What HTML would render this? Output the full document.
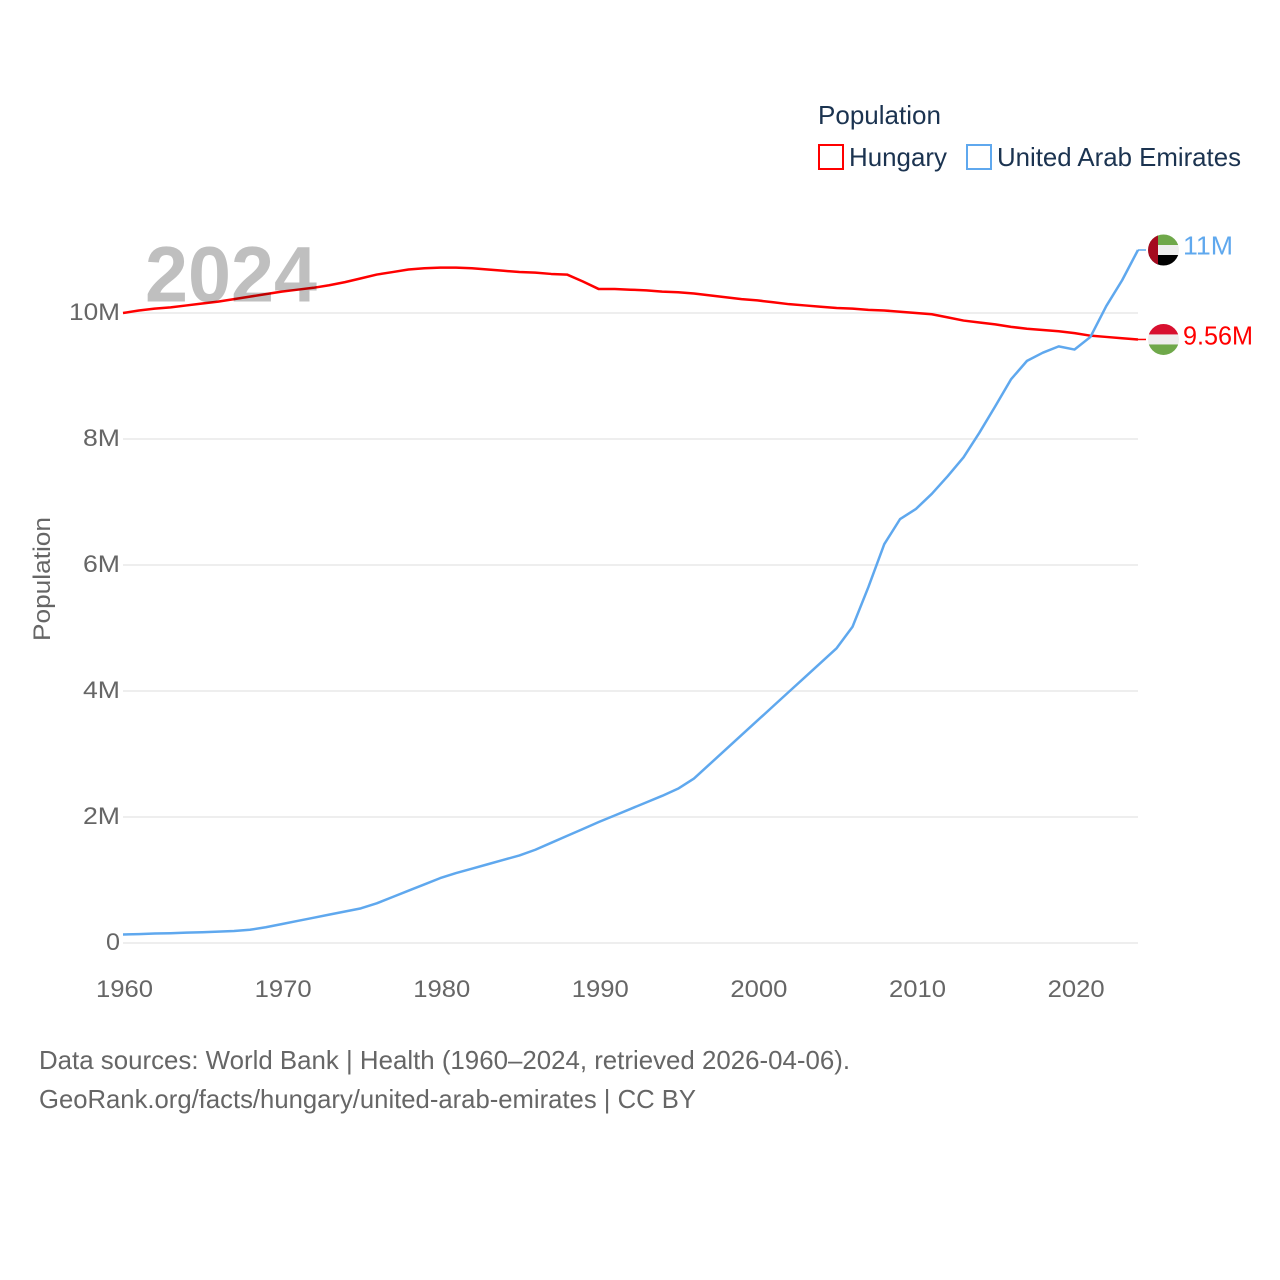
<!DOCTYPE html>
<html lang="en">
<head>
<meta charset="utf-8">
<title>Population: Hungary and United Arab Emirates</title>
<style>
  html, body { margin: 0; padding: 0; background: #fff; }
  svg { display: block; font-family: "Liberation Sans", sans-serif; }
</style>
</head>
<body>
<svg id="chart" width="1280" height="1280" viewBox="0 0 1280 1280" xmlns="http://www.w3.org/2000/svg">
  <defs>
    <clipPath id="flag-clip"><circle cx="0" cy="0" r="15.5"></circle></clipPath>
  </defs>
  <g id="grid"></g>
  <g id="yticks"></g>
  <g id="xticks"></g>
  <text transform="translate(50,579) rotate(-90)" text-anchor="middle" font-size="24" fill="#666" textLength="124" lengthAdjust="spacingAndGlyphs">Population</text>
  <g id="series"></g>
  <text id="year" x="145" y="301.5" font-size="79" font-weight="700" fill="#bfbfbf" textLength="172" lengthAdjust="spacingAndGlyphs" style="mix-blend-mode:multiply">2024</text>

  <g>
    <text x="818" y="124" font-size="26" fill="#1b3350" textLength="123" lengthAdjust="spacingAndGlyphs">Population</text>
    <g>
      <rect x="819" y="145" width="24" height="24" fill="#fff" stroke="#ff0000" stroke-width="2"></rect>
      <text x="849" y="166" font-size="26" fill="#1b3350" textLength="98" lengthAdjust="spacingAndGlyphs">Hungary</text>
    </g>
    <g>
      <rect x="967" y="145" width="24" height="24" fill="#fff" stroke="#5fa8ee" stroke-width="2"></rect>
      <text x="997" y="166" font-size="26" fill="#1b3350" textLength="244" lengthAdjust="spacingAndGlyphs">United Arab Emirates</text>
    </g>
  </g>

  <g id="flag-uae">
    <g clip-path="url(#flag-clip)">
      <rect x="-16" y="-16" width="32" height="11" fill="#6fa84a"></rect>
      <rect x="-16" y="-5" width="32" height="10" fill="#eeeeee"></rect>
      <rect x="-16" y="5" width="32" height="11" fill="#000000"></rect>
      <rect x="-16" y="-16" width="10.5" height="32" fill="#a50a1e"></rect>
    </g>
  </g>
  <g id="flag-hun">
    <g clip-path="url(#flag-clip)">
      <rect x="-16" y="-16" width="32" height="11" fill="#d8102f"></rect>
      <rect x="-16" y="-5" width="32" height="10" fill="#eeeeee"></rect>
      <rect x="-16" y="5" width="32" height="11" fill="#6fa84a"></rect>
    </g>
  </g>
  <text id="label-uae" x="1183" font-size="26" fill="#5fa8ee" textLength="50" lengthAdjust="spacingAndGlyphs"></text>
  <text id="label-hun" x="1183" font-size="26" fill="#ff0000" textLength="70" lengthAdjust="spacingAndGlyphs"></text>

  <g>
    <text x="39" y="1069" font-size="26" fill="#666" textLength="811" lengthAdjust="spacingAndGlyphs">Data sources: World Bank | Health (1960–2024, retrieved 2026-04-06).</text>
    <text x="39" y="1108" font-size="26" fill="#666" textLength="657" lengthAdjust="spacingAndGlyphs">GeoRank.org/facts/hungary/united-arab-emirates | CC BY</text>
  </g>
</svg>
<script>
const years = [1960,1961,1962,1963,1964,1965,1966,1967,1968,1969,1970,1971,1972,1973,1974,1975,1976,1977,1978,1979,1980,1981,1982,1983,1984,1985,1986,1987,1988,1989,1990,1991,1992,1993,1994,1995,1996,1997,1998,1999,2000,2001,2002,2003,2004,2005,2006,2007,2008,2009,2010,2011,2012,2013,2014,2015,2016,2017,2018,2019,2020,2021,2022,2023,2024];
const hungary = [10.00,10.04,10.07,10.09,10.12,10.15,10.18,10.22,10.26,10.30,10.34,10.37,10.40,10.44,10.49,10.55,10.61,10.65,10.69,10.71,10.72,10.72,10.71,10.69,10.67,10.65,10.64,10.62,10.61,10.50,10.38,10.38,10.37,10.36,10.34,10.33,10.31,10.28,10.25,10.22,10.20,10.17,10.14,10.12,10.10,10.08,10.07,10.05,10.04,10.02,10.00,9.98,9.93,9.88,9.85,9.82,9.78,9.75,9.73,9.71,9.68,9.64,9.62,9.60,9.58];
const uae = [0.135,0.14,0.15,0.155,0.165,0.17,0.18,0.19,0.21,0.25,0.30,0.35,0.40,0.45,0.50,0.55,0.63,0.73,0.83,0.93,1.03,1.11,1.18,1.25,1.32,1.39,1.48,1.59,1.70,1.81,1.92,2.024,2.128,2.232,2.336,2.45,2.61,2.84,3.07,3.30,3.53,3.76,3.99,4.22,4.45,4.68,5.02,5.65,6.33,6.73,6.89,7.13,7.41,7.71,8.10,8.52,8.95,9.24,9.37,9.47,9.42,9.62,10.11,10.52,11.00];
const yTickValues = [0,2,4,6,8,10];
const yTickLabels = ["0","2M","4M","6M","8M","10M"];
const xTickValues = [1960,1970,1980,1990,2000,2010,2020];
const endLabelUae = "11M";
const endLabelHungary = "9.56M";

const NS = "http://www.w3.org/2000/svg";
const plot = { left: 123, right: 1138, zero: 943, perMillion: 63 };
function xScale(year) {
  return plot.left + (year - years[0]) * (plot.right - plot.left) / (years[years.length - 1] - years[0]);
}
function yScale(millions) {
  return plot.zero - millions * plot.perMillion;
}
function make(tag, parent, attrs) {
  const el = document.createElementNS(NS, tag);
  Object.keys(attrs).forEach(function (k) { el.setAttribute(k, attrs[k]); });
  parent.appendChild(el);
  return el;
}

const grid = document.getElementById("grid");
const yGroup = document.getElementById("yticks");
yTickValues.forEach(function (v, i) {
  const line = make("line", grid, { x1: plot.left, x2: plot.right, y1: yScale(v), y2: yScale(v), stroke: "#eeeeee", "stroke-width": 2 });
  
  
  const label = make("text", yGroup, { x: 120, y: yScale(v) + 7, "text-anchor": "end", "font-size": 24, fill: "#666" });
  
  
  label.setAttribute("textLength", yTickLabels[i].length === 1 ? 14 : (yTickLabels[i].length === 2 ? 37 : 51));
  label.setAttribute("lengthAdjust", "spacingAndGlyphs");
  label.textContent = yTickLabels[i];
});

const xGroup = document.getElementById("xticks");
xTickValues.forEach(function (v) {
  const label = make("text", xGroup, { x: xScale(v) + 1.5, y: 997, "text-anchor": "middle", "font-size": 24, fill: "#666", textLength: 57, lengthAdjust: "spacingAndGlyphs" });
  
  
  label.textContent = String(v);
});

function pointsFor(values) {
  return values.map(function (v, i) { return xScale(years[i]).toFixed(2) + "," + yScale(v).toFixed(2); }).join(" ");
}
const seriesGroup = document.getElementById("series");

const hunConnector = make("line", seriesGroup, { x1: plot.right, x2: plot.right + 8, y1: yScale(hungary[hungary.length - 1]), y2: yScale(hungary[hungary.length - 1]), stroke: "#ff0000", "stroke-width": 1.5 });



const uaeConnector = make("line", seriesGroup, { x1: plot.right, x2: plot.right + 8, y1: yScale(uae[uae.length - 1]), y2: yScale(uae[uae.length - 1]), stroke: "#5fa8ee", "stroke-width": 1.5 });



const hunLine = make("polyline", seriesGroup, { points: pointsFor(hungary), fill: "none", stroke: "#ff0000", "stroke-width": 2.5, "stroke-linejoin": "round" });



const uaeLine = make("polyline", seriesGroup, { points: pointsFor(uae), fill: "none", stroke: "#5fa8ee", "stroke-width": 2.5, "stroke-linejoin": "round" });



const uaeEndY = yScale(uae[uae.length - 1]);
const hunEndY = yScale(hungary[hungary.length - 1]);
document.getElementById("flag-uae").setAttribute("transform", "translate(1163.5," + uaeEndY + ")");
document.getElementById("flag-hun").setAttribute("transform", "translate(1163.5," + hunEndY + ")");
const labelUae = document.getElementById("label-uae");
labelUae.setAttribute("y", uaeEndY + 4.5);
labelUae.textContent = endLabelUae;
const labelHun = document.getElementById("label-hun");
labelHun.setAttribute("y", hunEndY + 5);
labelHun.textContent = endLabelHungary;
</script>
</body>
</html>
